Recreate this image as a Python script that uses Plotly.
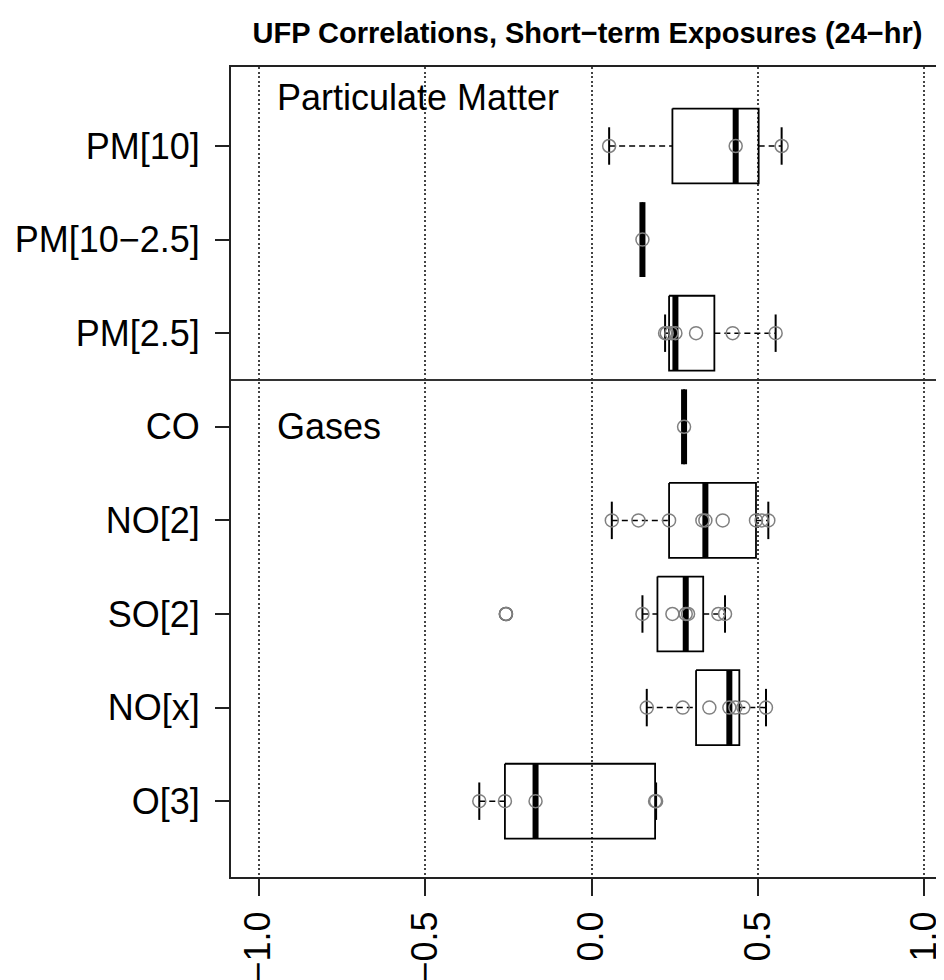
import plotly.graph_objects as go
import numpy as np

# ---- data ----
categories = ["PM[10]", "PM[10\u22122.5]", "PM[2.5]", "CO", "NO[2]", "SO[2]", "NO[x]", "O[3]"]
pm10 = [0.053, 0.433, 0.571]
pm10_25 = [0.153]
pm25 = [0.221, 0.226, 0.240, 0.252, 0.314, 0.424, 0.553]
co = [0.278]
no2 = [0.061, 0.141, 0.233, 0.333, 0.342, 0.394, 0.494, 0.511, 0.531]
so2 = [-0.257, 0.153, 0.243, 0.283, 0.290, 0.381, 0.401]
nox = [0.166, 0.274, 0.354, 0.414, 0.432, 0.456, 0.524]
o3 = [-0.337, -0.260, -0.168, 0.191, 0.194]
series = [pm10, pm10_25, pm25, co, no2, so2, nox, o3]
group_labels = ["Particulate Matter", "Gases"]
n_pm = 3
x_tickvals = [-1.0, -0.5, 0.0, 0.5, 1.0]
x_ticktext = ["\u22121.0", "\u22120.5", "0.0", "0.5", "1.0"]
title = "UFP Correlations, Short\u2212term Exposures (24\u2212hr)"


def fivenum(v):
    x = np.sort(np.asarray(v, dtype=float))
    n = len(x)
    n4 = np.floor((n + 3) / 2) / 2
    d = np.array([1, n4, (n + 1) / 2, n + 1 - n4, n]) - 1
    return 0.5 * (x[np.floor(d).astype(int)] + x[np.ceil(d).astype(int)])


def box_stats(v, coef=1.5):
    s = fivenum(v)
    iqr = s[3] - s[1]
    x = np.asarray(v, dtype=float)
    inside = x[(x >= s[1] - coef * iqr) & (x <= s[3] + coef * iqr)]
    out = x[(x < s[1] - coef * iqr) | (x > s[3] + coef * iqr)]
    return inside.min(), s[1], s[2], s[3], inside.max(), list(out)


FONT = "Liberation Sans, Arial, Helvetica, sans-serif"
hw = 0.4      # half box width (boxwex 0.8)
sw = 0.2      # half staple width

bx, by, mx, my, wx, wy, sx, sy, ox, oy, px, py = ([] for _ in range(12))
for i, vals in enumerate(series):
    y = i + 1
    lo, q1, med, q3, hi, outs = box_stats(vals)
    bx += [q1, q3, q3, q1, q1, None]
    by += [y - hw, y - hw, y + hw, y + hw, y - hw, None]
    mx += [med, med, None]
    my += [y - hw, y + hw, None]
    if lo < q1:
        wx += [lo, q1, None]; wy += [y, y, None]
    if hi > q3:
        wx += [q3, hi, None]; wy += [y, y, None]
    sx += [lo, lo, None, hi, hi, None]
    sy += [y - sw, y + sw, None, y - sw, y + sw, None]
    for o in outs:
        ox.append(o); oy.append(y)
    for v in vals:
        px.append(v); py.append(y)

fig = go.Figure()
fig.add_trace(go.Scatter(x=wx, y=wy, mode="lines",
                         line=dict(color="black", width=1.5, dash="6px,4px"), hoverinfo="skip"))
fig.add_trace(go.Scatter(x=sx, y=sy, mode="lines",
                         line=dict(color="black", width=2), hoverinfo="skip"))
fig.add_trace(go.Scatter(x=bx, y=by, mode="lines",
                         line=dict(color="black", width=1.8), hoverinfo="skip"))
fig.add_trace(go.Scatter(x=mx, y=my, mode="lines",
                         line=dict(color="black", width=6), hoverinfo="skip"))
fig.add_trace(go.Scatter(x=ox, y=oy, mode="markers",
                         marker=dict(symbol="circle-open", size=13, color="#333333",
                                     line=dict(width=1.6, color="#333333")), hoverinfo="skip"))
fig.add_trace(go.Scatter(x=px, y=py, mode="markers",
                         marker=dict(symbol="circle-open", size=13, color="#808080",
                                     line=dict(width=1.5, color="#808080")), hoverinfo="skip"))

# separator between groups
fig.add_shape(type="line", xref="paper", x0=0, x1=1, yref="y",
              y0=n_pm + 0.5, y1=n_pm + 0.5, line=dict(color="#333333", width=2))

fig.add_annotation(text=group_labels[0], xref="x", yref="y", x=-0.95, y=0.48,
                   xanchor="left", yanchor="middle", showarrow=False,
                   font=dict(family=FONT, size=36, color="black"))
fig.add_annotation(text=group_labels[1], xref="x", yref="y", x=-0.95, y=n_pm + 1,
                   xanchor="left", yanchor="middle", showarrow=False,
                   font=dict(family=FONT, size=36, color="black"))

# the page body adds an 8px margin, so the figure is 8px smaller each way
fig.update_layout(
    width=936, height=972,
    margin=dict(l=223, r=0, t=59, b=103, autoexpand=False),
    paper_bgcolor="white", plot_bgcolor="white",
    showlegend=False,
    title=dict(text="<b>" + title + "</b>", x=0.5, xref="paper", xanchor="center",
               y=1 - 25 / 972, yref="container", yanchor="middle",
               font=dict(family=FONT, size=29, color="black")),
    font=dict(family=FONT, color="black"),
)
fig.update_xaxes(range=[-1.0826, 1.0586], tickvals=x_tickvals, ticktext=x_ticktext,
                 tickangle=-90, tickfont=dict(family=FONT, size=36, color="black"),
                 ticks="outside", ticklen=17, tickwidth=2, tickcolor="#222222",
                 showline=True, mirror=True, linecolor="#222222", linewidth=2,
                 showgrid=True, gridcolor="#444444", gridwidth=1.5, griddash="2px,2.5px",
                 zeroline=False, ticklabelstandoff=1, automargin=False,
                 ticklabeloverflow="allow")
fig.update_yaxes(range=[8.81, 0.156], tickvals=list(range(1, len(categories) + 1)),
                 ticktext=categories, tickfont=dict(family=FONT, size=36, color="black"),
                 ticks="outside", ticklen=14, tickwidth=2, tickcolor="#222222",
                 showline=True, mirror=False, linecolor="#222222", linewidth=2,
                 showgrid=False, zeroline=False, ticklabelstandoff=8, automargin=False,
                 ticklabeloverflow="allow")

fig.write_html("out.html")
